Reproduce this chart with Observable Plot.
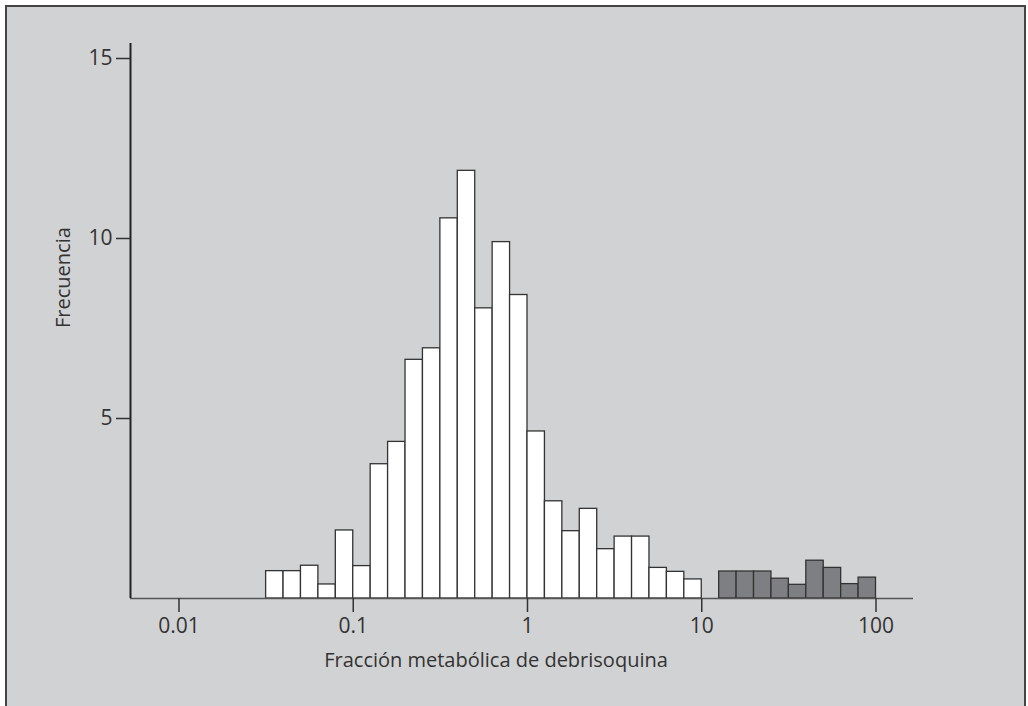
<!DOCTYPE html>
<html><head><meta charset="utf-8">
<script src="https://cdn.jsdelivr.net/npm/d3@7"></script>
<script src="https://cdn.jsdelivr.net/npm/@observablehq/plot@0.6"></script>
<style>
body{margin:0;background:#fff;}
#bg{position:absolute;left:5px;top:5px;width:1021px;height:720px;box-sizing:border-box;border:2px solid #444;border-bottom:none;background:#d1d2d4;}
#chart{position:absolute;left:0;top:0;}
</style></head><body><div id="bg"></div><div id="chart"></div>
<script>
// Lower bin edges as powers of ten (bins are 0.1 decade wide)
const whiteBinExp = [-1.5,-1.4,-1.3,-1.2,-1.1,-1.0,-0.9,-0.8,-0.7,-0.6,-0.5,-0.4,-0.3,-0.2,-0.1,0.0,0.1,0.2,0.3,0.4,0.5,0.6,0.7,0.8,0.9];
const whiteFreq   = [0.76,0.76,0.91,0.39,1.89,0.90,3.73,4.35,6.63,6.95,10.56,11.88,8.06,9.90,8.43,4.64,2.70,1.87,2.49,1.37,1.72,1.72,0.85,0.74,0.53];
const darkBinExp  = [1.1,1.2,1.3,1.4,1.5,1.6,1.7,1.8,1.9];
const darkFreq    = [0.75,0.75,0.75,0.55,0.38,1.05,0.85,0.40,0.58];
const binWidthExp = 0.1;
const xTicks = [0.01, 0.1, 1, 10, 100];
const xTickLabels = ["0.01", "0.1", "1", "10", "100"];
const yTicks = [5, 10, 15];
const xLabel = "Fracción metabólica de debrisoquina";
const yLabel = "Frecuencia";

const toRows = (exps, freqs) => exps.map((e, i) => ({x1: 10 ** e, x2: 10 ** (e + binWidthExp), y: freqs[i]}));
const whiteRows = toRows(whiteBinExp, whiteFreq);
const darkRows = toRows(darkBinExp, darkFreq);

const xDomain = [10 ** -2.2783, 10 ** 2.2152];
const font = "'Open Sans', sans-serif";

const chart = Plot.plot({
  width: 1028, height: 706,
  marginLeft: 130, marginRight: 115, marginTop: 43, marginBottom: 108,
  style: {background: "transparent", fontFamily: font, color: "#333"},
  x: {type: "log", domain: xDomain},
  y: {domain: [0, 555 / 36]},
  marks: [
    Plot.rectY(whiteRows, {x1: "x1", x2: "x2", y: "y", fill: "white", stroke: "#333", strokeWidth: 1.3}),
    Plot.rectY(darkRows, {x1: "x1", x2: "x2", y: "y", fill: "#7e7f82", stroke: "#333", strokeWidth: 1.3}),
    Plot.ruleY([0], {stroke: "#555", strokeWidth: 1.6}),
    Plot.ruleX([xDomain[0]], {stroke: "#222", strokeWidth: 2}),
    Plot.axisX({ticks: xTicks, tickFormat: (d, i) => xTickLabels[xTicks.indexOf(d)], tickSize: 14, tickPadding: 6, fontSize: 21, stroke: "#333", strokeWidth: 1.5, label: null, fill: "#333"}),
    Plot.axisY({ticks: yTicks, tickFormat: d => String(d), tickSize: 14, tickPadding: 4, fontSize: 21, stroke: "#333", strokeWidth: 1.5, label: null, fill: "#333"}),
    Plot.text([xLabel], {frameAnchor: "bottom", dx: -26, dy: 68, fontSize: 20, fill: "#333", fontFamily: font}),
    Plot.text([yLabel], {frameAnchor: "left", rotate: -90, dx: -67, dy: 7, fontSize: 20, fill: "#333", fontFamily: font})
  ]
});
document.getElementById("chart").appendChild(chart);
</script>
</body></html>
